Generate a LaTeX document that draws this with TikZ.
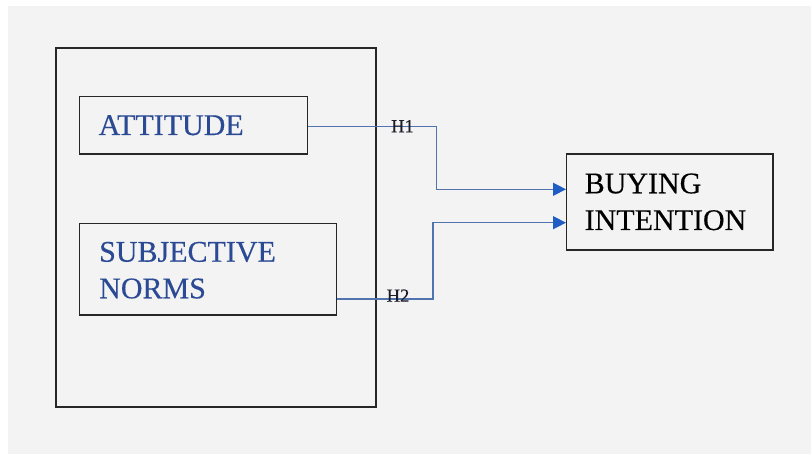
\documentclass[tikz,border=0pt]{standalone}
\usepackage{fontspec}
\setmainfont{Liberation Serif}
\newfontfamily\heavyserif[FakeBold=0.4]{Liberation Serif}
\usetikzlibrary{arrows.meta}

\definecolor{pagebg}{HTML}{F3F3F3}
\definecolor{boxline}{HTML}{262626}
\definecolor{conceptblue}{HTML}{2B4A94}
\definecolor{linkline}{HTML}{5274AE}
\definecolor{tipblue}{HTML}{1F5CC4}
\definecolor{hyplabel}{HTML}{1C1C28}

\tikzset{
  frame/.style={draw=boxline, line width=1.4pt, inner sep=0pt, minimum width=#1},
  concept/.style={font=\heavyserif\fontsize{30}{36.7}\selectfont, text=conceptblue, inner sep=0pt, anchor=base west},
  outcome/.style={font=\heavyserif\fontsize{30}{36.7}\selectfont, text=black, inner sep=0pt, anchor=base west},
  hyp/.style={font=\heavyserif\fontsize{18.5}{20}\selectfont, text=hyplabel, inner sep=0pt, anchor=base west},
  link/.style={draw=linkline, line width=1.4pt,
    -{Triangle[length=13pt,width=13pt,color=tipblue]}}
}

\begin{document}
\begin{tikzpicture}[x=1pt,y=-1pt]
  % canvas
  \useasboundingbox (0,0) rectangle (811,454);
  \fill[white] (0,0) rectangle (811,454);
  \fill[pagebg] (8,6) rectangle (811,454);

  % grouping frame around the two predictors
  \node[frame=320pt, minimum height=359pt] (group) at (216,227.5) {};

  % predictor boxes
  \node[frame=228pt, minimum height=57.3pt] (att) at (193.3,125.35) {};
  \node[frame=257.4pt, minimum height=91.7pt] (sub) at (208,269.15) {};
  % outcome box
  \node[frame=206.3pt, minimum height=96pt] (buy) at (669.85,202) {};

  % box texts
  \node[concept] (attT) at (98.5,135) {ATTITUDE};
  \node[concept] (subT1) at (99,261.7) {SUBJECTIVE};
  \node[concept] (subT2) at (99,298.3) {NORMS};
  \node[outcome] (buyT1) at (584.5,193.3) {BUYING};
  \node[outcome] (buyT2) at (584.5,230) {INTENTION};

  % bend columns of the connectors
  \coordinate (h1col) at (436.7,0);
  \coordinate (h2col) at (433,0);

  % H1: attitude -> buying intention
  \coordinate (a1) at ([yshift=-1.3pt]att.east);
  \coordinate (b1) at ([yshift=12.7pt]buy.west);
  \draw[link] (a1) -- (a1 -| h1col) |- (b1);

  % H2: subjective norms -> buying intention
  \coordinate (a2) at ([yshift=-29.85pt]sub.east);
  \coordinate (b2) at ([yshift=-20.7pt]buy.west);
  \draw[link] (a2) -- (a2 -| h2col) |- (b2);

  % hypothesis labels
  \node[hyp] (h1) at (391,132.3) {H1};
  \node[hyp] (h2) at (386.5,301.7) {H2};
\end{tikzpicture}
\end{document}
